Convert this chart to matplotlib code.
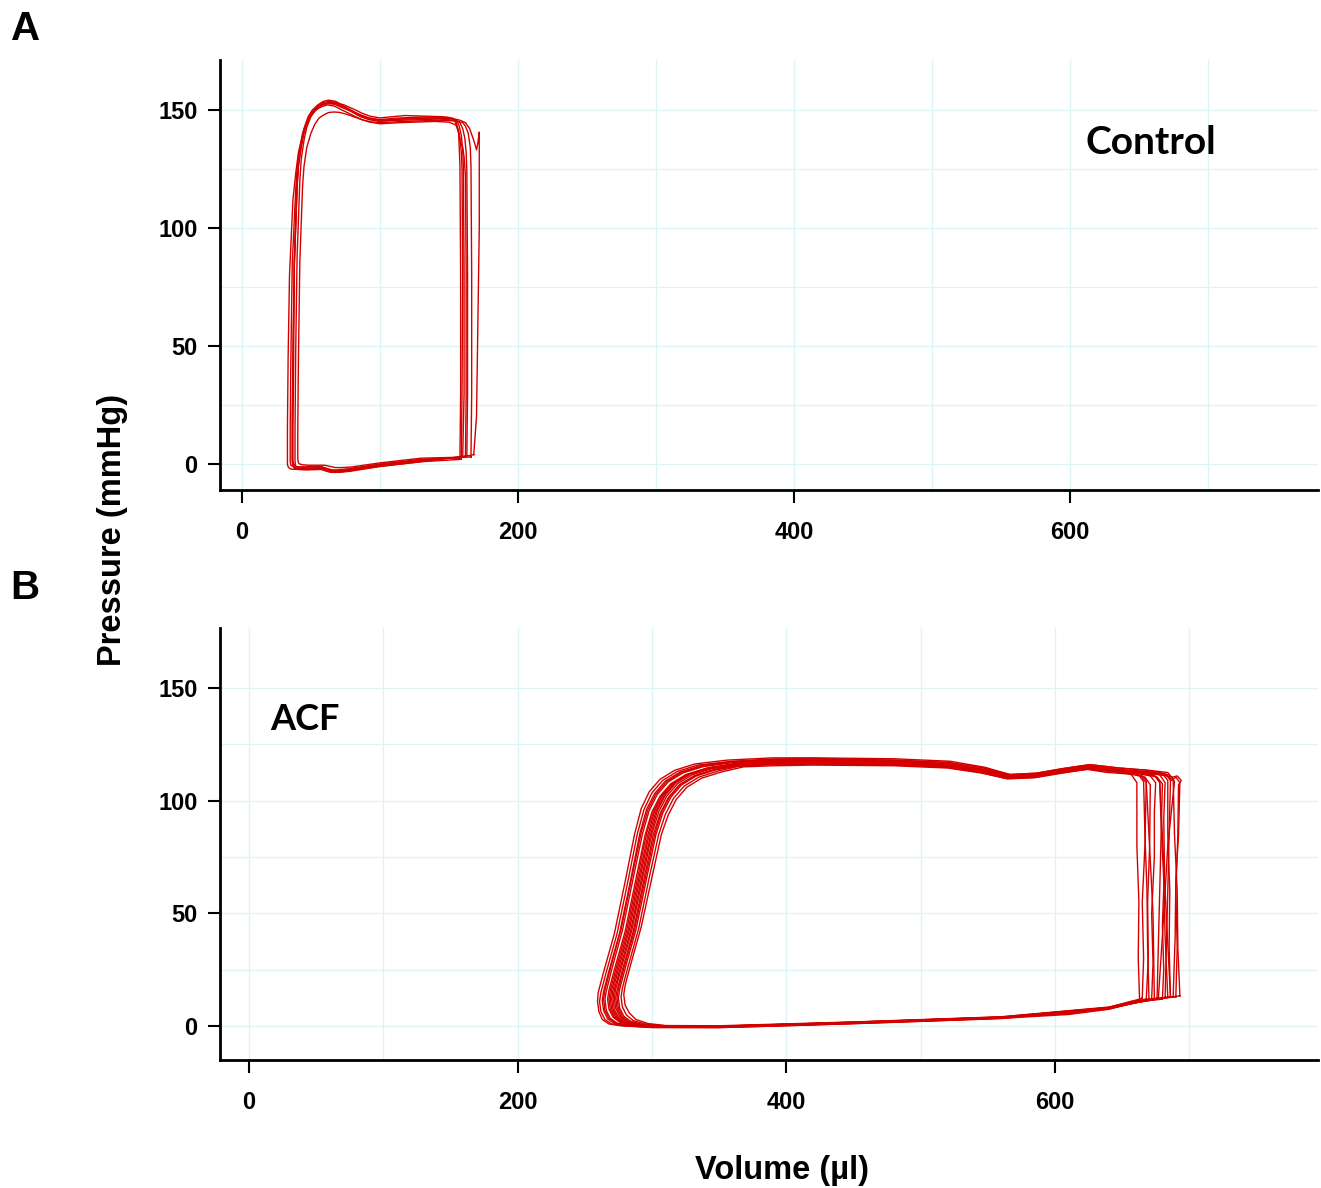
import matplotlib
matplotlib.use("Agg")
import matplotlib.pyplot as plt

# pressure-volume loops: (volume ul, pressure mmHg)
control_loops = [
    [(160,3),(161,30),(161,80),(160.5,125),(160,133),(159,139),(157.5,143),(156,145),(152,146.2),(140,146.5),(115,146),(100,145),(92,145.8),(86,147),(80,149),(73,151.5),(68,153),(63,153.5),(59,153),(55,151.5),(51,149.3),(48,146),(45,141),(43,135),(41,127),(40,118),(38,85),(37,45),(36.5,15),(36.5,2),(37,0),(38,-1.2),(40,-1.6),(45,-1.8),(58,-1.5),(62,-2.3),(66,-3),(70,-3),(78,-2.5),(100,-0.5),(130,1.5),(160,3)],
    [(158,2.5),(158.5,30),(158.5,80),(158,126),(157.5,134),(157,140),(155.5,143.5),(154,145.5),(150,146.7),(140,147),(115,146.5),(100,145.8),(92,146.5),(86,147.8),(79,149.5),(72,151),(67,152.3),(62,152.5),(58,152),(54,150.5),(50,148),(47,145),(44,140),(42,134),(40,125),(39,116),(36.5,85),(35.5,45),(35,15),(35,1),(35.5,-0.5),(37,-1),(39,-1.2),(44,-1.2),(57,-1),(61,-1.8),(65,-2.5),(69,-2.5),(77,-2),(100,0),(130,2),(158,2.5)],
    [(163,3.5),(163.5,30),(163.5,80),(163,124),(162.5,132),(161.5,138),(160,142),(158,144.5),(153,146.3),(145,147),(118,147.5),(100,146.5),(93,147.2),(87,148.5),(81,150.2),(74,152),(69,152.8),(64,153),(60,152.6),(57,151.5),(53,149.5),(50,147),(47,142.5),(45,137),(43,129),(42,120),(40,88),(39,48),(38.5,15),(38.5,1),(39,-0.8),(40,-2),(42,-2.3),(47,-2.5),(60,-2.2),(64,-3),(67,-3.5),(71,-3.5),(79,-3),(100,-1),(130,1),(163,3.5)],
    [(168,4),(170,20),(171,60),(172,100),(172,140.5),(171,136),(170,133),(168,137),(165,142),(162,144.5),(158,145.5),(152,146.3),(140,146.5),(115,146),(100,145.5),(92,146.3),(86,147.5),(80,149.5),(73,151.8),(68,153.5),(63,154),(59,153.5),(55,152),(51,149.8),(48,147),(45,142),(43,136),(41,128),(40,119),(38,86),(37,46),(36.5,15),(36.5,1),(37,-0.8),(38,-1.8),(40,-2),(45,-2),(58,-1.8),(62,-2.6),(66,-3.2),(70,-3.2),(78,-2.8),(100,-0.8),(130,1.5),(160,3),(168,4)],
    [(159,2),(159.5,30),(160,80),(159.5,125),(159,132),(158,138),(156.5,141.5),(155,143.5),(150,144.7),(140,145),(115,144.5),(100,144),(92,144.8),(86,146),(79,148),(72,150),(67,151.5),(62,152),(58,151.3),(54,150),(50,147.5),(47,144),(44,139),(41,132),(39,123),(37,112),(34.5,80),(33.5,45),(33,15),(33,0),(33.5,-1.2),(35,-2),(37,-2.2),(42,-2.3),(56,-2),(60,-2.8),(64,-3.5),(68,-3.5),(76,-3),(100,-1),(130,1),(159,2)],
    [(166,3),(166.5,30),(166.5,80),(166,126),(165.5,134),(164,140),(162,143),(160,144.5),(154,145.3),(142,145.5),(118,145),(100,144.5),(94,144.8),(88,145.5),(82,146.8),(76,148),(71,148.8),(67,149),(63,148.8),(60,148),(56,146.5),(53,144),(50,140),(47,134),(45,126),(44,118),(42,86),(41,46),(40.5,15),(40.5,2),(41,0.5),(42,0),(44,-0.3),(48,-0.5),(60,-0.5),(64,-1),(68,-1.5),(72,-1.5),(80,-1.2),(100,0.5),(130,2.5),(166,3)],
    [(162,3),(162.5,30),(162.5,80),(162,122),(161,130),(160,134),(158,137),(157,141),(155,145),(150,145.8),(142,146),(116,145.5),(100,145.2),(92,146),(86,147.2),(80,149),(73,151),(68,152.5),(63,152.8),(59,152.4),(55,151),(51,148.8),(48,145.5),(45,140),(43,134),(41,126),(40,117),(38,84),(37.5,45),(37,15),(37,1.5),(37.5,0),(39,-1),(41,-1.3),(46,-1.3),(58,-1.2),(62,-2),(66,-2.7),(70,-2.7),(78,-2.2),(100,-0.2),(130,1.8),(162,3)],
]

acf_loops = [
    [(680,12),(681,25),(680,45),(681.5,70),(681,92),(682,108),(678,111.5),(665,112.5),(645,113.5),(625,114.8),(605,113),(585,111),(565,110.5),(545,113.5),(520,115.8),(480,116.8),(420,117.2),(390,117),(360,116),(340,114.3),(325,111.5),(314,107.5),(306,102),(300,95),(295,85),(288,65),(280,42),(272,25),(268,16),(267,12),(268,7.5),(271,4),(276,1.8),(285,0.5),(300,-0.1),(350,-0.3),(400,0.5),(450,1.5),(500,2.5),(560,3.8),(610,5.5),(640,8),(660,10.5),(672,11.5),(680,12)],
    [(665,12.5),(666,30),(665,55),(667,80),(668,109),(664,112),(652,113.5),(640,114.5),(625,115.5),(605,113.5),(585,111.5),(567,111),(547,114.5),(520,117),(480,118),(420,118.8),(390,118.5),(360,117.5),(334,115.8),(319,113),(308,109),(300,103.5),(294,96),(289,85),(282,64),(274,41),(266,24),(262,15),(261,11),(262,6.5),(265,3),(270,1),(279,0.2),(300,-0.5),(350,-0.6),(400,0.2),(450,1.2),(500,2.2),(560,3.5),(610,5.2),(640,7.5),(655,10),(665,12.5)],
    [(690,13),(691,35),(690,60),(691.5,85),(692,107),(694,109),(691,111),(688,110.5),(675,111.8),(650,112.5),(625,114),(605,112.5),(585,110.5),(563,110),(545,112.5),(520,114.8),(480,115.8),(420,116.2),(390,116),(365,115.3),(350,113.3),(335,110.5),(324,106.5),(316,101),(310,94),(305,85),(298,66),(290,43),(282,26),(278,17),(277,13),(278,8.5),(281,5),(286,2.5),(295,1),(310,0.2),(350,0),(400,0.8),(450,1.8),(500,2.8),(560,4),(610,5.8),(640,8.3),(665,11),(680,12.5),(690,13)],
    [(672,12),(673,28),(672,50),(674,75),(674,95),(675,108),(671,111),(660,112.5),(640,113.8),(624,115),(604,113.2),(584,111.2),(565,110.8),(546,113.8),(520,116),(480,117),(420,117.5),(390,117.5),(362,116.5),(344,114.8),(329,112),(318,108),(310,102.5),(304,95.5),(299,85),(292,65),(284,42),(276,25),(272,16),(271,12.5),(272,7.5),(275,4),(280,1.8),(289,0.6),(300,0),(350,-0.2),(450,1.6),(560,3.9),(640,8.1),(660,10.8),(672,12)],
    [(686,13),(685,35),(685.5,60),(684,85),(684,109),(680,112),(668,113),(645,114),(625,115.3),(605,113.8),(585,111.8),(566,111.2),(546,114),(520,116.5),(480,117.6),(420,118),(390,118),(358,117),(337,115.3),(322,112.5),(311,108.5),(303,103),(297,96),(292,86),(285,66),(277,43),(269,25.5),(265,16),(264,12),(265,7),(268,3.5),(273,1.3),(282,0.4),(300,-0.3),(350,-0.4),(450,1.3),(560,3.6),(640,7.8),(665,11),(678,12.3),(686,13)],
    [(663,12),(662,30),(662.5,55),(661,80),(661,108),(657,111.5),(648,113),(625,114.5),(605,112.8),(585,110.8),(565,110.2),(545,113.2),(520,115.5),(480,116.5),(420,116.8),(390,116.5),(364,115.6),(348,113.8),(333,111),(322,107),(314,101.5),(308,94.5),(303,85),(296,65.5),(288,42.5),(280,25.5),(276,16.5),(275,12.5),(276,8),(279,4.5),(284,2.2),(293,0.8),(310,0.1),(350,0),(450,1.7),(560,4),(640,8.3),(655,10.8),(663,12)],
    [(677,12.5),(680,40),(684,80),(689,108.5),(685,111.5),(672,112.5),(648,113.4),(625,114.6),(605,112.9),(585,110.9),(564,110.3),(545,113.3),(520,115.7),(480,116.8),(420,117.3),(390,117),(361,116),(341,114.3),(326,111.5),(315,107.5),(307,102),(301,95),(296,85.5),(289,65),(281,42),(273,25),(269,16),(268,12),(269,7.5),(272,4),(277,1.8),(286,0.5),(300,-0.1),(350,-0.3),(450,1.5),(560,3.8),(640,8),(662,10.8),(677,12.5)],
    [(693,13.5),(691.5,35),(691,60),(689,85),(688,109.5),(684,112.5),(670,113.5),(648,114.5),(626,116),(606,114.3),(586,112.2),(567,111.5),(548,114.8),(522,117.5),(480,118.6),(420,119),(390,119),(356,118),(332,116.3),(317,113.5),(306,109.5),(298,104),(292,96.5),(287,85),(280,64),(272,41),(264,24),(260,15),(259.5,11),(260.5,6.5),(263,3),(268,1),(277,0.2),(300,-0.6),(350,-0.6),(450,1.1),(560,3.4),(640,7.6),(668,11.5),(684,12.8),(693,13.5)],
    [(668,12),(669.5,30),(669,55),(670.5,80),(671,107),(667,110.5),(656,111.8),(638,112.6),(623,114),(604,112.3),(584,110.3),(564,109.8),(545,112.3),(520,114.5),(480,115.5),(420,115.8),(390,115.5),(368,115),(352,112.8),(337,110),(326,106),(318,100.5),(312,93.5),(307,85),(300,66),(292,44),(284,27),(280,18),(279,14),(280,9.5),(283,6),(288,3),(297,1.2),(310,0.3),(350,0.2),(450,1.9),(560,4.2),(640,8.5),(658,11),(668,12)],
    [(684,12.8),(682,40),(681,65),(679,90),(678,108),(674,111.2),(663,112.5),(642,113.6),(625,114.9),(605,113.1),(585,111.1),(565,110.6),(546,113.6),(520,115.9),(480,116.9),(420,117.4),(390,117),(363,116),(345,114.3),(330,111.5),(319,107.5),(311,102),(305,95),(300,85.5),(293,65.5),(285,42.5),(277,25.5),(273,16.5),(272,12.5),(273,8),(276,4.3),(281,2),(290,0.7),(305,0),(350,-0.1),(450,1.6),(560,3.9),(640,8.1),(665,11),(684,12.8)],
    [(670,12.2),(669,35),(668.5,60),(667,85),(666,108.5),(662,111.7),(652,113),(636,114),(624,115.1),(604,113.4),(585,111.4),(566,110.9),(546,113.9),(520,116.3),(480,117.3),(420,117.8),(390,117.8),(359,116.8),(338,115.1),(323,112.3),(312,108.3),(304,102.8),(298,95.8),(293,85.5),(286,65.5),(278,42.5),(270,25),(266,15.5),(265,12),(266,7),(269,3.5),(274,1.4),(283,0.4),(300,-0.3),(350,-0.4),(450,1.4),(560,3.7),(640,7.9),(658,10.7),(670,12.2)],
    [(688,13),(689.5,40),(690,65),(692,85),(693,108),(690,110.5),(687,109),(684,111),(676,112.2),(652,113),(625,114.3),(605,112.6),(585,110.6),(565,110),(545,113),(520,115.3),(480,116.3),(420,116.7),(390,116.7),(364,115.8),(347,114),(332,111.2),(321,107.2),(313,101.7),(307,94.7),(302,85),(295,65.5),(287,42.5),(279,25.5),(275,16.5),(274,12.5),(275,8),(278,4.3),(283,2),(292,0.8),(308,0),(350,0),(450,1.7),(560,4),(640,8.2),(670,11.5),(688,13)],
    [(674,12.3),(673,50),(668,108),(664,111),(656,112.8),(645,113.8),(625,115.1),(605,113.3),(585,111.3),(565,110.8),(545,113.8),(520,116.1),(480,117.1),(420,117.5),(390,117.3),(362,116.3),(342,114.6),(327,111.8),(316,107.8),(308,102.3),(302,95.3),(297,85),(290,65),(282,42),(274,25),(270,16),(269,12),(270,7.5),(273,4),(278,1.8),(287,0.5),(300,-0.1),(350,-0.2),(450,1.5),(560,3.8),(640,8),(662,11),(674,12.3)],
    [(682,12.8),(684,60),(686,109),(682,112),(668,113.5),(646,114.6),(626,116),(606,114.2),(586,112.2),(566,111.7),(546,114.7),(520,117),(480,118),(420,118.4),(390,118.2),(357,117.2),(336,115.5),(321,112.7),(310,108.7),(302,103.2),(296,96.2),(291,85.5),(284,64.5),(276,41.5),(268,24.5),(264,15.5),(263,11.5),(264,7),(267,3.3),(272,1.2),(281,0.3),(300,-0.4),(350,-0.5),(450,1.3),(560,3.6),(640,7.8),(666,11.3),(682,12.8)],
    [(676,12.4),(678,60),(680,107.5),(676,110.5),(665,111.8),(645,112.8),(625,114),(605,112.2),(585,110.2),(565,109.7),(545,112.7),(520,115),(480,116),(420,116.4),(390,116.2),(364,115.4),(346,113.6),(331,110.8),(320,106.8),(312,101.2),(306,94.2),(301,85),(294,65),(286,42),(278,25),(274,16),(273,12.5),(274,8),(277,4.3),(282,2),(291,0.7),(305,0),(350,0),(450,1.8),(560,4.1),(640,8.3),(663,11),(676,12.4)],
    [(686,13),(682,60),(678,108.5),(674,111.3),(663,112.6),(645,113.7),(625,115),(605,113.2),(585,111.2),(565,110.7),(545,113.7),(520,116),(480,117),(420,117.4),(390,117.2),(362,116.2),(343,114.5),(328,111.7),(317,107.7),(309,102.2),(303,95.2),(298,85.2),(291,65.2),(283,42.2),(275,25.2),(271,16),(270,12),(271,7.5),(274,4),(279,1.8),(288,0.5),(300,-0.1),(350,-0.2),(450,1.5),(560,3.8),(640,8),(668,11.5),(686,13)],
]

x_ticks = [0, 200, 400, 600]
x_grid = [0, 100, 200, 300, 400, 500, 600, 700]
y_ticks = [0, 50, 100, 150]
y_grid = [0, 25, 50, 75, 100, 125, 150]

red = '#d40000'
grid_col = '#dcf4f4'
tick_font = {'family': 'Liberation Sans', 'weight': 'bold', 'size': 17}

fig = plt.figure(figsize=(13.21, 11.88), dpi=100)
axA = fig.add_axes([0.1665, 0.5875, 0.8312, 0.362])
axB = fig.add_axes([0.1665, 0.1077, 0.8312, 0.3637])


def style(ax, xlim, ylim):
    for g in x_grid:
        ax.axvline(g, color=grid_col, lw=0.9, zorder=0)
    for g in y_grid:
        ax.axhline(g, color=grid_col, lw=0.9, zorder=0)
    ax.set_xlim(*xlim)
    ax.set_ylim(*ylim)
    ax.set_xticks(x_ticks)
    ax.set_yticks(y_ticks)
    ax.set_xticklabels([str(t) for t in x_ticks], fontdict=tick_font)
    ax.set_yticklabels([str(t) for t in y_ticks], fontdict=tick_font)
    for s in ['top', 'right']:
        ax.spines[s].set_visible(False)
    for s in ['left', 'bottom']:
        ax.spines[s].set_linewidth(2)
    ax.tick_params(axis='both', direction='out', length=9, width=1.5)
    ax.tick_params(axis='x', pad=13)
    ax.tick_params(axis='y', pad=7)


for loop in control_loops:
    axA.plot([p[0] for p in loop], [p[1] for p in loop], color=red, lw=1.0)
for loop in acf_loops:
    axB.plot([p[0] for p in loop], [p[1] for p in loop], color=red, lw=1.0)

style(axA, (-15.9, 779.7), (-11, 171))
style(axB, (-21.6, 795.8), (-15, 176.6))

axA.text(611, 136, 'Control', family='Lato', weight='bold', fontsize=28,
         va='center', ha='left')
axB.text(16, 136, 'ACF', family='Lato', weight='bold', fontsize=26,
         va='center', ha='left')

fig.text(0.008, 0.992, 'A', family='Liberation Sans', weight='bold',
         fontsize=29, va='top', ha='left')
fig.text(0.008, 0.521, 'B', family='Liberation Sans', weight='bold',
         fontsize=29, va='top', ha='left')
fig.text(0.085, 0.554, 'Pressure (mmHg)', family='Liberation Sans',
         weight='bold', fontsize=23.5, rotation=90, va='center', ha='center')
fig.text(0.592, 0.015, 'Volume (µl)', family='Liberation Sans',
         weight='bold', fontsize=23.5, va='center', ha='center')

fig.savefig('out.png', dpi=100)
